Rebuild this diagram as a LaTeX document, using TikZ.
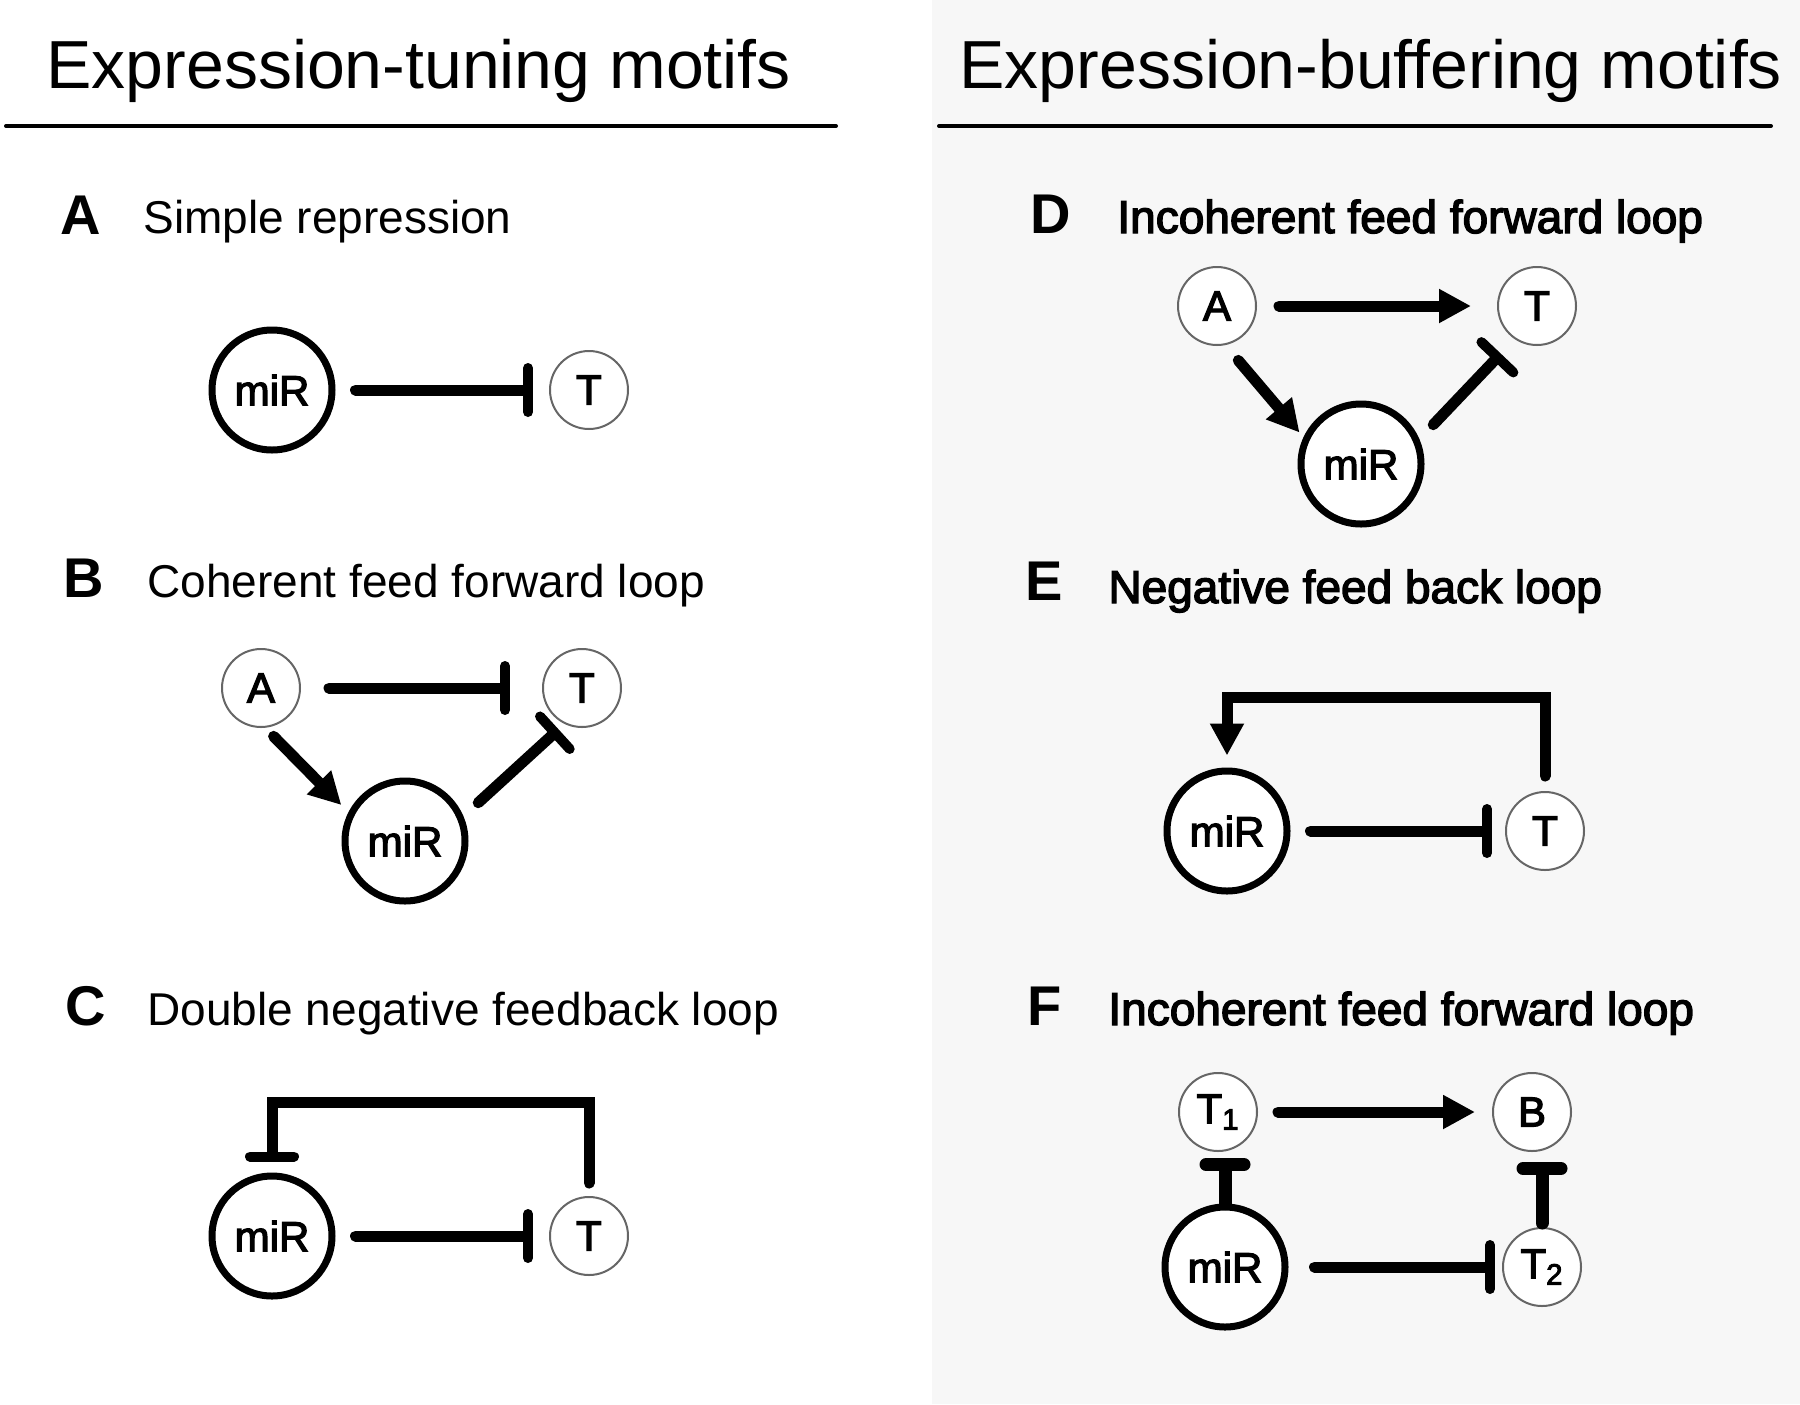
\documentclass[tikz,border=0pt]{standalone}
\usepackage{fontspec}
\setmainfont{Liberation Sans}
\newfontfamily\epaisfont[FakeBold=3]{Liberation Sans}
\usetikzlibrary{arrows.meta}

\begin{document}
\begin{tikzpicture}[x=.5pt, y=-.5pt, line cap=round,
  noeud/.style={circle, draw, fill=white, inner sep=0pt, font=\epaisfont\fontsize{21}{21}\selectfont},
  gros/.style={noeud, line width=3.5pt, minimum size=60pt},
  petit/.style={noeud, draw=black!60, line width=1pt, minimum size=39pt},
  active/.style={line width=5.5pt, -{Triangle[length=16pt,width=16pt]}},
  inhibe/.style={line width=5.5pt, -{Bar[width=22pt,line width=5pt,round]}},
  inhibecourt/.style={line width=6.5pt, -{Bar[width=19pt,line width=6.5pt,round]}},
  titre/.style={anchor=base west, inner sep=0pt, font=\fontsize{34}{34}\selectfont},
  lettre/.style={anchor=base west, inner sep=0pt, font=\fontsize{28}{28}\selectfont\bfseries},
  motif/.style={anchor=base west, inner sep=0pt, font=\fontsize{23}{23}\selectfont},
  motifgras/.style={motif, font=\epaisfont\fontsize{23}{23}\selectfont}]

%% Fond de la colonne de droite.

\fill[gray!6] (932,0) rectangle (1800,1404);
\useasboundingbox (0,0) rectangle (1800,1404);

%% Titres des colonnes.

\node[titre] (titreg) at (46,88) {Expression-tuning motifs};
\node[titre] (titred) at (959,88) {Expression-buffering motifs};
\draw[line width=2pt] (6,126) -- (836,126);
\draw[line width=2pt] (939,126) -- (1771,126);

%% A : repression simple.

\node[lettre] (lA) at (60,234) {A};
\node[motif] (tA) at (143,233) {Simple repression};
\node[gros] (miRa) at (272,390) {miR};
\node[petit] (Ta) at (589,390) {T};
\draw[inhibe, shorten <=10pt, shorten >=8pt] (miRa) -- (Ta);

%% B : boucle coherente.

\node[lettre] (lB) at (63,597) {B};
\node[motif] (tB) at (147,597) {Coherent feed forward loop};
\node[petit] (Ab) at (261,688) {A};
\node[petit] (Tb) at (582,688) {T};
\node[gros] (miRb) at (405,841) {miR};
\draw[inhibe, shorten <=14pt, shorten >=16pt] (Ab) -- (Tb);
\draw[active, shorten <=6pt, shorten >=5pt] (Ab.276) -- (miRb.153);
\draw[inhibe, shorten <=10pt, shorten >=4pt] (miRb.23) -- (Tb.244);

%% C : double retroaction negative.

\node[lettre] (lC) at (65,1025) {C};
\node[motif] (tC) at (147,1025) {Double negative feedback loop};
\node[gros] (miRc) at (272,1236) {miR};
\node[petit] (Tc) at (589,1236) {T};
\coordinate (hautc) at (0,1102);
\draw[inhibe, shorten <=10pt, shorten >=8pt] (miRc) -- (Tc);
\draw[inhibe, shorten <=6.5pt, shorten >=5.5pt] (Tc.north) -- (Tc.north |- hautc) -| (miRc.north);

%% D : boucle incoherente.

\node[lettre] (lD) at (1030,233) {D};
\node[motifgras] (tD) at (1117,233) {Incoherent feed forward loop};
\node[petit] (Ad) at (1217,306) {A};
\node[petit] (Td) at (1537,306) {T};
\node[gros] (miRd) at (1361,464) {miR};
\draw[active, shorten <=11pt, shorten >=13pt] (Ad) -- (Td);
\draw[active, shorten <=10pt, shorten >=3pt] (Ad.282) -- (miRd.155);
\draw[inhibe, shorten <=10pt, shorten >=10pt] (miRd.23) -- (Td.236);

%% E : retroaction negative.

\node[lettre] (lE) at (1025,600) {E};
\node[motifgras] (tE) at (1108,603) {Negative feed back loop};
\node[gros] (miRe) at (1227,831) {miR};
\node[petit] (Te) at (1545,831) {T};
\coordinate (haute) at (0,697);
\draw[inhibe, shorten <=10pt, shorten >=6.5pt] (miRe) -- (Te);
\draw[active, shorten <=7.5pt, shorten >=6pt] (Te.north) -- (Te.north |- haute) -| (miRe.north);

%% F : boucle incoherente a deux cibles.

\node[lettre] (lF) at (1027,1025) {F};
\node[motifgras] (tF) at (1108,1025) {Incoherent feed forward loop};
\node[petit] (T1f) at (1218,1112) {T\textsubscript{1}};
\node[petit] (Bf) at (1532,1112) {B};
\node[gros] (miRf) at (1225,1267) {miR};
\node[petit] (T2f) at (1542,1267) {T\textsubscript{2}};
\draw[active, shorten <=10pt, shorten >=8.5pt] (T1f) -- (Bf);
\draw[inhibe, shorten <=13pt, shorten >=3.5pt] (miRf) -- (T2f);
\draw[inhibecourt, shorten <=0pt, shorten >=3pt] (miRf.north) -- (miRf.north |- T1f.south);
\draw[inhibecourt, shorten <=2pt, shorten >=5pt] (T2f.north) -- (T2f.north |- Bf.south);

\end{tikzpicture}
\end{document}
